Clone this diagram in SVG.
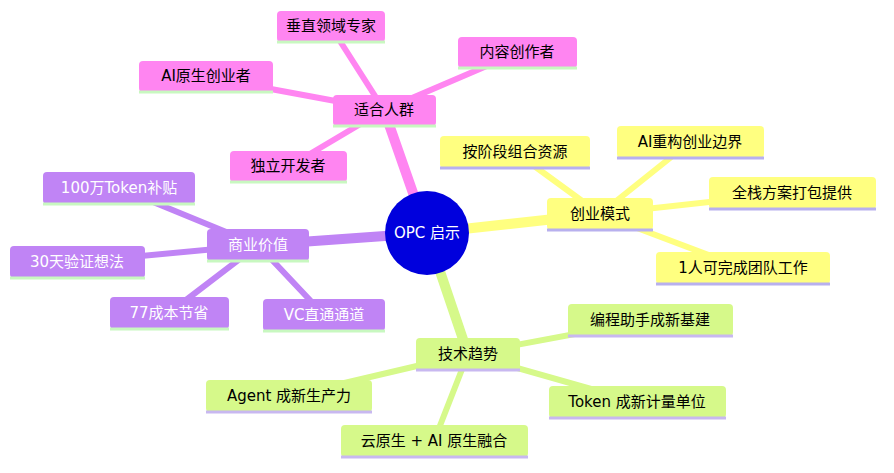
<svg xmlns="http://www.w3.org/2000/svg" width="894" height="473" viewBox="0 0 894 473">
<style>
text{font-family:"DejaVu Sans","Noto Sans CJK SC",sans-serif;font-size:15px;text-anchor:middle;dominant-baseline:central}
.p rect.b{fill:#ff85f1}.p line.u{stroke:#c8f8c0}
.v rect.b{fill:#c084f5}.v line.u{stroke:#c8f8c0}.v text{fill:#fff}
.y rect.b{fill:#ffff80}.y line.u{stroke:#b8b0ee}
.g rect.b{fill:#d6f98a}.g line.u{stroke:#c8b8f0}
line.u{stroke-width:3}
.e line{stroke-linecap:round}
</style>
<rect width="894" height="473" fill="#fff"/>
<g id="connectors" class="e">
<g stroke="#ff85f1">
<line x1="427" y1="233" x2="384" y2="110" stroke-width="10"/>
<line x1="384" y1="110" x2="331" y2="27" stroke-width="6"/>
<line x1="384" y1="110" x2="517" y2="53" stroke-width="6"/>
<line x1="384" y1="110" x2="206" y2="77" stroke-width="6"/>
<line x1="384" y1="110" x2="288" y2="167" stroke-width="6"/>
</g>
<g stroke="#ffff80">
<line x1="427" y1="233" x2="600" y2="214" stroke-width="10"/>
<line x1="600" y1="214" x2="515" y2="152" stroke-width="6"/>
<line x1="600" y1="214" x2="690" y2="142" stroke-width="6"/>
<line x1="600" y1="214" x2="792" y2="193" stroke-width="6"/>
<line x1="600" y1="214" x2="743" y2="268" stroke-width="6"/>
</g>
<g stroke="#c084f5">
<line x1="427" y1="233" x2="258" y2="245" stroke-width="10"/>
<line x1="258" y1="245" x2="119" y2="188" stroke-width="6"/>
<line x1="258" y1="245" x2="77" y2="262" stroke-width="6"/>
<line x1="258" y1="245" x2="169" y2="313" stroke-width="6"/>
<line x1="258" y1="245" x2="324" y2="315" stroke-width="6"/>
</g>
<g stroke="#d6f98a">
<line x1="427" y1="233" x2="468" y2="354" stroke-width="10"/>
<line x1="468" y1="354" x2="650" y2="320" stroke-width="6"/>
<line x1="468" y1="354" x2="289" y2="396" stroke-width="6"/>
<line x1="468" y1="354" x2="637" y2="402" stroke-width="6"/>
<line x1="468" y1="354" x2="434" y2="441" stroke-width="6"/>
</g>
</g>
<g id="root"><circle cx="427" cy="233" r="42" fill="#0000dd"/><text x="427" y="233" fill="#fff">OPC 启示</text></g>
<g class="p">
<g id="n-shiheren"><rect class="b" x="333" y="95" width="103" height="31" rx="4"/><line class="u" x1="333" y1="126" x2="436" y2="126"/><text x="384" y="110">适合人群</text></g>
<g id="n-chuizhi"><rect class="b" x="277" y="11" width="108" height="31" rx="4"/><line class="u" x1="277" y1="42" x2="385" y2="42"/><text x="331" y="26">垂直领域专家</text></g>
<g id="n-neirong"><rect class="b" x="458" y="37" width="119" height="31" rx="4"/><line class="u" x1="458" y1="68" x2="577" y2="68"/><text x="517" y="52">内容创作者</text></g>
<g id="n-aiyuansheng"><rect class="b" x="139" y="61" width="134" height="31" rx="4"/><line class="u" x1="139" y1="92" x2="273" y2="92"/><text x="206" y="76">AI原生创业者</text></g>
<g id="n-duli"><rect class="b" x="230" y="151" width="117" height="31" rx="4"/><line class="u" x1="230" y1="182" x2="347" y2="182"/><text x="288" y="166">独立开发者</text></g>
</g>
<g class="y">
<g id="n-chuangye"><rect class="b" x="547" y="198" width="106" height="32" rx="4"/><line class="u" x1="547" y1="230" x2="653" y2="230"/><text x="600" y="214">创业模式</text></g>
<g id="n-anjieduan"><rect class="b" x="440" y="136" width="150" height="32" rx="4"/><line class="u" x1="440" y1="168" x2="590" y2="168"/><text x="515" y="152">按阶段组合资源</text></g>
<g id="n-aichonggou"><rect class="b" x="617" y="126" width="147" height="32" rx="4"/><line class="u" x1="617" y1="158" x2="764" y2="158"/><text x="690" y="142">AI重构创业边界</text></g>
<g id="n-quanzhan"><rect class="b" x="709" y="177" width="167" height="32" rx="4"/><line class="u" x1="709" y1="209" x2="876" y2="209"/><text x="792" y="193">全栈方案打包提供</text></g>
<g id="n-yiren"><rect class="b" x="656" y="252" width="174" height="32" rx="4"/><line class="u" x1="656" y1="284" x2="830" y2="284"/><text x="743" y="268">1人可完成团队工作</text></g>
</g>
<g class="v">
<g id="n-shangye"><rect class="b" x="207" y="229" width="102" height="32" rx="4"/><line class="u" x1="207" y1="261" x2="309" y2="261"/><text x="258" y="245">商业价值</text></g>
<g id="n-token"><rect class="b" x="43" y="172" width="152" height="32" rx="4"/><line class="u" x1="43" y1="204" x2="195" y2="204"/><text x="119" y="188">100万Token补贴</text></g>
<g id="n-30tian"><rect class="b" x="10" y="246" width="135" height="32" rx="4"/><line class="u" x1="10" y1="278" x2="145" y2="278"/><text x="77" y="262">30天验证想法</text></g>
<g id="n-77"><rect class="b" x="110" y="297" width="119" height="32" rx="4"/><line class="u" x1="110" y1="329" x2="229" y2="329"/><text x="169" y="313">77成本节省</text></g>
<g id="n-vc"><rect class="b" x="263" y="299" width="122" height="32" rx="4"/><line class="u" x1="263" y1="331" x2="385" y2="331"/><text x="324" y="315">VC直通通道</text></g>
</g>
<g class="g">
<g id="n-jishu"><rect class="b" x="416" y="338" width="104" height="32" rx="4"/><line class="u" x1="416" y1="370" x2="520" y2="370"/><text x="468" y="354">技术趋势</text></g>
<g id="n-biancheng"><rect class="b" x="568" y="304" width="165" height="32" rx="4"/><line class="u" x1="568" y1="336" x2="733" y2="336"/><text x="650" y="320">编程助手成新基建</text></g>
<g id="n-agent"><rect class="b" x="206" y="380" width="166" height="32" rx="4"/><line class="u" x1="206" y1="412" x2="372" y2="412"/><text x="289" y="396">Agent 成新生产力</text></g>
<g id="n-tokenunit"><rect class="b" x="549" y="386" width="177" height="32" rx="4"/><line class="u" x1="549" y1="418" x2="726" y2="418"/><text x="637" y="402">Token 成新计量单位</text></g>
<g id="n-yun"><rect class="b" x="341" y="425" width="187" height="32" rx="4"/><line class="u" x1="341" y1="457" x2="528" y2="457"/><text x="434" y="441">云原生 + AI 原生融合</text></g>
</g>
</svg>
